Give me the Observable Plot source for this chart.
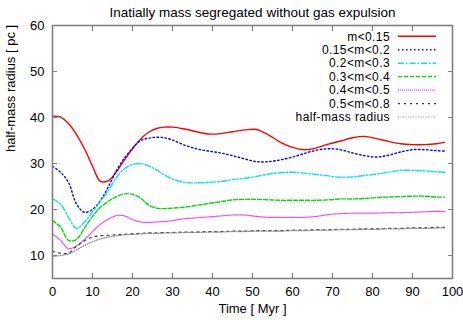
<!DOCTYPE html>
<html><head><meta charset="utf-8">
<script src="https://cdn.jsdelivr.net/npm/d3@7"></script>
<script src="https://cdn.jsdelivr.net/npm/@observablehq/plot@0.6"></script>
<style>body{margin:0;background:#fff} #chart{width:463px;height:320px}</style>
</head><body><div id="chart"></div>
<script>
const title = "Inatially mass segregated without gas expulsion";
const xLabel = "Time [ Myr ]";
const yLabel = "half-mass radius [ pc ]";
const xTicks = [0,10,20,30,40,50,60,70,80,90,100];
const yTicks = [10,20,30,40,50,60];
const seriesNames = ["m<0.15","0.15<m<0.2","0.2<m<0.3","0.3<m<0.4","0.4<m<0.5","0.5<m<0.8","half-mass radius"];

const time   = [0,2,4,6,8,10,12,14,16,18,20,22,24,26,28,30,33,36,39,42,45,48,51,54,57,60,63,66,69,72,75,78,81,84,87,90,93,96,98];
const m015   = [40.3,40.1,38.7,36.3,33.2,29.4,26.1,26.3,28.2,30.8,33.2,35.3,36.8,37.6,37.9,37.9,37.5,36.9,36.4,36.5,36.9,37.3,37.4,36.2,34.6,33.5,33.0,33.4,34.2,34.9,35.6,35.9,35.4,34.8,34.3,34.1,34.1,34.3,34.6];
const m015_02 = [29.4,28.1,25.9,21.2,19.4,20.0,22.0,25.0,28.5,31.2,33.3,35.0,35.5,35.7,35.6,35.1,34.0,33.2,32.7,32.3,31.7,31.0,30.4,30.4,30.8,31.4,32.2,32.9,33.2,33.0,32.3,31.7,31.4,31.8,32.5,33.0,33.0,32.8,32.7];
const m02_03 = [22.3,21.2,18.3,15.9,17.3,19.5,21.8,24.2,27.0,28.9,29.8,30.0,29.5,28.6,27.5,26.6,25.9,25.8,25.9,26.1,26.5,26.8,27.2,27.7,28.0,28.1,27.9,27.6,27.3,27.0,27.1,27.4,27.7,28.1,28.5,28.5,28.4,28.2,28.1];
const m03_04 = [17.6,16.2,13.3,13.5,16.0,18.5,20.5,21.8,22.8,23.4,23.3,22.5,21.0,20.3,20.2,20.3,20.5,20.9,21.3,21.7,22.1,22.2,22.2,22.1,22.0,22.0,22.0,22.0,22.1,22.3,22.3,22.4,22.6,22.7,22.8,22.9,22.9,22.7,22.7];
const m04_05 = [14.7,13.3,11.5,12.1,13.5,15.2,16.8,17.9,18.7,18.6,17.8,17.3,17.2,17.3,17.4,17.6,18.0,18.2,18.4,18.6,18.8,18.8,18.5,18.3,18.3,18.3,18.3,18.5,18.9,19.1,19.2,19.2,19.2,19.3,19.3,19.4,19.5,19.6,19.6];
const m05_08 = [10.9,10.5,10.5,12.0,13.2,14.0,14.3,14.4,14.5,14.6,14.7,14.8,14.9,14.9,15.0,15.0,15.1,15.1,15.2,15.2,15.3,15.3,15.4,15.4,15.4,15.5,15.5,15.6,15.6,15.7,15.7,15.8,15.8,15.9,15.9,16.0,16.0,16.1,16.1];
const halfMass = [9.8,10.0,10.3,11.2,12.2,13.0,13.6,14.0,14.3,14.5,14.6,14.7,14.8,14.8,14.9,14.9,15.0,15.0,15.1,15.1,15.2,15.2,15.3,15.3,15.3,15.4,15.4,15.5,15.5,15.6,15.6,15.7,15.7,15.8,15.8,15.9,15.9,16.0,16.0];

const seriesValues = [m015, m015_02, m02_03, m03_04, m04_05, m05_08, halfMass];
const seriesStyle = [
  {stroke:"#ff0000", dash:null, w:1.4},
  {stroke:"#0000ff", dash:"1.5,2.5", w:1.4},
  {stroke:"#00e5ee", dash:"6,2,1.5,2", w:1.4},
  {stroke:"#00dd00", dash:"4,2", w:1.4},
  {stroke:"#ff44ff", dash:"1,1", w:1.2},
  {stroke:"#333333", dash:"2,4", w:1.2},
  {stroke:"#888888", dash:"1,1.5", w:1.2}
];

const lineMarks = seriesValues.map((vals, k) =>
  Plot.line(time.map((t, i) => ({t, v: vals[i]})), {
    x: "t", y: "v", stroke: seriesStyle[k].stroke, strokeWidth: seriesStyle[k].w,
    strokeDasharray: seriesStyle[k].dash, curve: "catmull-rom"
  })
);

const gray = "#808080";
const plot = Plot.plot({
  width: 463, height: 320,
  marginLeft: 52, marginRight: 11, marginTop: 25, marginBottom: 42,
  style: {fontFamily: "'Liberation Sans', Arial, sans-serif", fontSize: "13px", background: "#fff", color: "#000"},
  x: {domain: [0, 100]},
  y: {domain: [5, 60]},
  marks: [
    ...lineMarks,
    Plot.axisX({anchor: "bottom", ticks: xTicks, tickSize: 0, tickPadding: 8, label: null, fill: "#000"}),
    Plot.axisY({anchor: "left", ticks: yTicks, tickSize: 0, tickPadding: 8, label: null, fill: "#000"}),
    Plot.axisX({anchor: "bottom", ticks: xTicks, tickSize: 5, dy: -5, tickFormat: () => "", label: null, stroke: gray}),
    Plot.axisX({anchor: "top", ticks: xTicks, tickSize: 5, dy: 5, tickFormat: () => "", label: null, stroke: gray}),
    Plot.axisY({anchor: "left", ticks: yTicks, tickSize: 5, dx: 5, tickFormat: () => "", label: null, stroke: gray}),
    Plot.axisY({anchor: "right", ticks: yTicks, tickSize: 5, dx: -5, tickFormat: () => "", label: null, stroke: gray}),
    Plot.frame({stroke: gray, strokeWidth: 1.6}),
    Plot.text([title], {text: d => d, frameAnchor: "top", dy: -18, fontSize: 13.5}),
    Plot.text([xLabel], {text: d => d, frameAnchor: "bottom", dy: 34, fontSize: 13}),
    Plot.text([yLabel], {text: d => d, frameAnchor: "left", dx: -42, rotate: -90, fontSize: 13})
  ]
});
document.getElementById("chart").appendChild(plot);

// legend inside the plot area
const svg = d3.select(plot);
const lg = svg.append("g").attr("font-family", "'Liberation Sans', Arial, sans-serif").attr("font-size", 12).attr("letter-spacing", "0.4px");
seriesNames.forEach((name, k) => {
  const y = 36.3 + k * 13.45;
  lg.append("text").attr("x", 390).attr("y", y).attr("dy", "0.35em").attr("text-anchor", "end").attr("fill", "#000").text(name);
  lg.append("line").attr("x1", 398).attr("x2", 436).attr("y1", y).attr("y2", y)
    .attr("stroke", seriesStyle[k].stroke).attr("stroke-width", seriesStyle[k].w)
    .attr("stroke-dasharray", seriesStyle[k].dash);
});
</script></body></html>
